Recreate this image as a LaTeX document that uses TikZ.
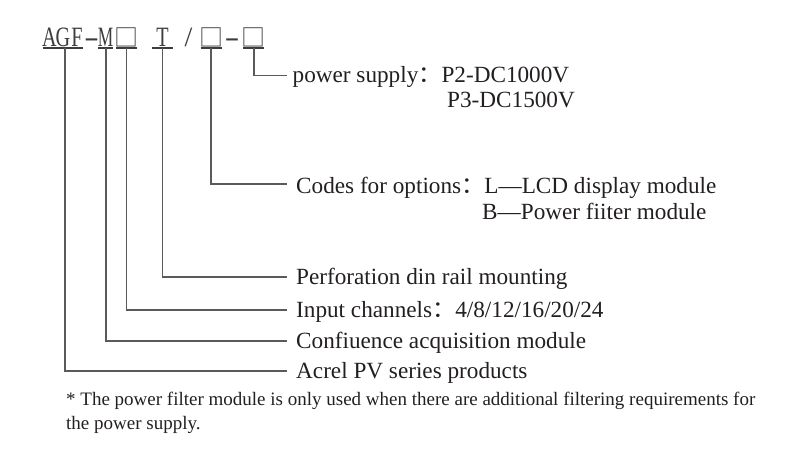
\documentclass[tikz,border=0pt]{standalone}
\usepackage{fontspec}
\usepackage{graphicx}
\setmainfont{Liberation Serif}
\newfontfamily\cjk{Noto Sans CJK SC}
\definecolor{txt}{HTML}{231F20}
\definecolor{hdrc}{HTML}{3C3C3C}
\definecolor{linec}{HTML}{5A5A5A}
\tikzset{
  conn/.style={draw=linec, line width=1.2pt},
  uline/.style={draw=hdrc, line width=1.1pt},
  lbl/.style={anchor=base west, inner sep=0pt, text=txt, font=\fontsize{23.2}{28}\selectfont},
  note/.style={anchor=base west, inner sep=0pt, text=txt, font=\fontsize{19}{22}\selectfont},
  hdr/.style={anchor=base, inner sep=0pt, text=hdrc, font=\fontsize{28}{30}\selectfont},
  hbox/.style={anchor=base, inner sep=0pt, text=hdrc, font=\cjk\fontsize{24}{26}\selectfont},
}
\begin{document}
\begin{tikzpicture}[x=1pt,y=-1pt]
\useasboundingbox (0,0) rectangle (810,469);
% header glyphs
\node[hdr] (hA) at (49.5,46.5) {\scalebox{0.72}[1]{A}};
\node[hdr] (hG) at (63,46.5) {\scalebox{0.72}[1]{G}};
\node[hdr] (hF) at (77,46.5) {\scalebox{0.72}[1]{F}};
\node[hdr] (hd1) at (91.5,46.5) {\scalebox{1.6}[1]{-}};
\node[hdr] (hM) at (105.5,46.5) {\scalebox{0.62}[1]{M}};
\node[hbox] (hb1) at (126.5,46.5) {□};
\node[hdr] (hT) at (162.5,46.5) {\scalebox{0.72}[1]{T}};
\node[hdr] (hs) at (188.5,46.5) {/};
\node[hbox] (hb2) at (211,46.5) {□};
\node[hdr] (hd2) at (232,46.5) {\scalebox{1.6}[1]{-}};
\node[hbox] (hb3) at (253.5,46.5) {□};
% underlines
\coordinate (uAGF) at (65,48);
\coordinate (uM) at (106,48);
\coordinate (uB1) at (126.7,48);
\coordinate (uT) at (162.7,48);
\coordinate (uB2) at (211,48);
\coordinate (uB3) at (254,48);
\draw[uline] (42.7,48) -- (83.3,48);
\draw[uline] (98,48) -- (113,48);
\draw[uline] (116,48) -- (137,48);
\draw[uline] (151.7,48) -- (173.3,48);
\draw[uline] (200.5,48) -- (222,48);
\draw[uline] (243,48) -- (263.5,48);
% labels
\node[lbl] (lP) at (292.5,82) {power supply{\cjk ：}P2-DC1000V};
\node[lbl] (lP3) at (447,107) {P3-DC1500V};
\node[lbl] (lC) at (296,193) {Codes for options{\cjk ：}L—LCD display module};
\node[lbl] (lB) at (482,219) {B—Power fiiter module};
\node[lbl] (lPerf) at (296,284) {Perforation din rail mounting};
\node[lbl] (lIn) at (296,317) {Input channels{\cjk ：}4/8/12/16/20/24};
\node[lbl] (lCf) at (296,348) {Confiuence acquisition module};
\node[lbl] (lAc) at (296,378) {Acrel PV series products};
\node[note] (n1) at (66,405) {* The power filter module is only used when there are additional filtering requirements for};
\node[note] (n2) at (66,429) {the power supply.};
% connector ends
\coordinate (eP) at (286.5,75.5);
\coordinate (eC) at (286.5,184);
\coordinate (ePerf) at (286.5,277);
\coordinate (eIn) at (286.5,310);
\coordinate (eCf) at (286.5,341);
\coordinate (eAc) at (286.5,371);
\draw[conn] (uB3) |- (eP);
\draw[conn] (uB2) |- (eC);
\draw[conn] (uT) |- (ePerf);
\draw[conn] (uB1) |- (eIn);
\draw[conn] (uM) |- (eCf);
\draw[conn] (uAGF) |- (eAc);
\end{tikzpicture}
\end{document}
